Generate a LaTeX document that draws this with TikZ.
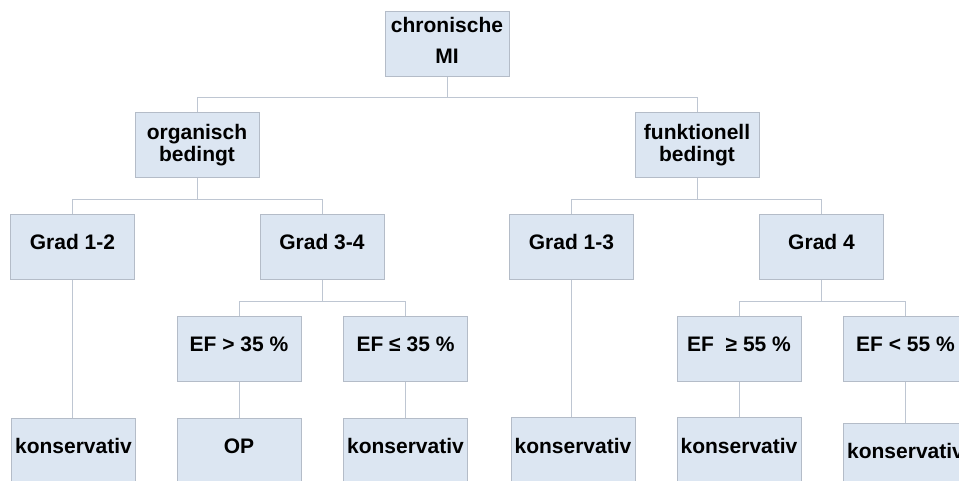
\documentclass[tikz,border=0pt]{standalone}
\usepackage{fontspec}
\setmainfont{Liberation Sans}
\definecolor{boxfill}{RGB}{220,230,242}
\definecolor{boxline}{RGB}{180,188,200}
\definecolor{connline}{RGB}{190,198,210}
\begin{document}
\begin{tikzpicture}[x=1pt,y=-1pt,
  box/.style={draw=boxline,fill=boxfill,line width=1pt,minimum width=124pt,minimum height=65pt,inner sep=0pt,
    align=center,font=\fontsize{21}{22}\selectfont\bfseries},
  onebox/.style={box,text height=16pt,text depth=10pt},
  conn/.style={draw=connline,line width=1pt}]
\useasboundingbox (0,0) rectangle (959,481);
\clip (0,0) rectangle (959,481);
\fill[white] (0,0) rectangle (959,481);
\node[box,font=\fontsize{21}{31}\selectfont\bfseries,text depth=8pt] (top) at (447,44.5) {chronische\\MI};
\node[box] (org) at (197,145.5) {organisch\\bedingt};
\node[box] (funk) at (697,145.5) {funktionell\\bedingt};
\node[onebox] (g12) at (72.5,247) {Grad 1-2};
\node[onebox] (g34) at (322,247) {Grad 3-4};
\node[onebox] (g13) at (571.5,247) {Grad 1-3};
\node[onebox] (g4) at (821.5,247) {Grad 4};
\node[onebox] (ef1) at (239,348.5) {EF > 35 \%};
\node[onebox] (ef2) at (405.5,348.5) {EF ≤ 35 \%};
\node[onebox] (ef3) at (739,348.5) {EF\ \ ≥ 55 \%};
\node[onebox] (ef4) at (905.5,348.5) {EF < 55 \%};
\node[onebox] (k1) at (73.5,450.5) {konservativ};
\node[onebox] (op) at (239,450.5) {OP};
\node[onebox] (k2) at (405.5,450.5) {konservativ};
\node[onebox] (k3) at (573,450) {konservativ};
\node[onebox] (k4) at (739,450) {konservativ};
\node[onebox] (k5) at (905.5,455.5) {konservativ};
\draw[conn] (top.south) -- (top.south |- 0,98) -| (org.north);
\draw[conn] (top.south |- 0,98) -| (funk.north);
\draw[conn] (org.south) -- (org.south |- 0,200) -| (g12.north);
\draw[conn] (org.south |- 0,200) -| (g34.north);
\draw[conn] (funk.south) -- (funk.south |- 0,200) -| (g13.north);
\draw[conn] (funk.south |- 0,200) -| (g4.north);
\draw[conn] (g34.south) -- (g34.south |- 0,302) -| (ef1.north);
\draw[conn] (g34.south |- 0,302) -| (ef2.north);
\draw[conn] (g4.south) -- (g4.south |- 0,302) -| (ef3.north);
\draw[conn] (g4.south |- 0,302) -| (ef4.north);
\draw[conn] (g12.south) -- (g12.south |- k1.north);
\draw[conn] (g13.south) -- (g13.south |- k3.north);
\draw[conn] (ef1.south) -- (op.north);
\draw[conn] (ef2.south) -- (k2.north);
\draw[conn] (ef3.south) -- (k4.north);
\draw[conn] (ef4.south) -- (k5.north);
\end{tikzpicture}
\end{document}
